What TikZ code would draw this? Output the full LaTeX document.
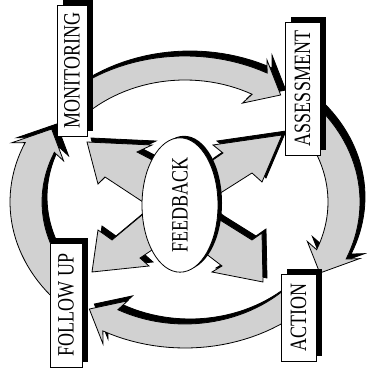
\documentclass[tikz,border=0pt]{standalone}
\usepackage{fontspec}
\setmainfont{Liberation Serif}
\usetikzlibrary{shapes.geometric,shadows}
\definecolor{bandgray}{gray}{0.82}
\tikzset{
  band/.style={fill=bandgray, draw=black, line width=0.8pt},
  bandshadow/.style={fill=black, draw=black, line width=0.8pt},
  labelbox/.style={draw, fill=white, inner sep=0pt, line width=0.8pt,
    drop shadow={shadow xshift=6pt, shadow yshift=5pt, fill=black, opacity=1},
    font=\fontsize{18}{20}\selectfont},
  fbnode/.style={ellipse, draw, fill=white, inner sep=0pt, line width=0.8pt,
    minimum width=76pt, minimum height=115pt,
    drop shadow={shadow xshift=4pt, shadow yshift=2pt, fill=black, opacity=1},
    font=\fontsize{18}{20}\selectfont}
}
\newcommand{\uptext}[1]{\rotatebox{90}{\scalebox{1}[1.3]{#1}}}
\newcommand{\fbarrow}[1]{%
    \draw[bandshadow, shift={(4,-4)}] #1 -- cycle;
    \draw[band] #1 -- cycle;}
\begin{document}
\begin{tikzpicture}[x=1pt, y=-1pt]
    \useasboundingbox (0,0) rectangle (366,374);
    \def\cx{185}
    \def\cy{202}

    % big cycle arrows round the ring
    \foreach \ta/\tb in {225/307, 318/392, 45/127, 138/213} {
        \pgfmathsetmacro{\tc}{\tb-9}
        \pgfmathsetmacro{\td}{\tb-11}
        \foreach \dx/\dy/\st in {5/-5/bandshadow, 0/0/band} {
            \draw[\st, shift={(\dx,\dy)}]
                plot[domain=\ta:\tc, samples=30] ({\cx+175*cos(\x)},{\cy+146*sin(\x)})
                -- ({\cx+187*cos(\td)},{\cy+158*sin(\td)})
                -- ({\cx+159*cos(\tb)},{\cy+134*sin(\tb)})
                -- ({\cx+131*cos(\td)},{\cy+110*sin(\td)})
                -- plot[domain=\tc:\ta, samples=30] ({\cx+143*cos(\x)},{\cy+122*sin(\x)})
                -- cycle;
        }
    }

    % feedback arrows
    \fbarrow{(170,180) -- (158,163) -- (137,152) -- (152,145) -- (87,142)
        -- (98,184) -- (105,177) -- (143,202) -- (160,205)}
    \fbarrow{(195,175) -- (210,162) -- (223,153) -- (213,145) -- (282,135)
        -- (262,182) -- (252,173) -- (222,192) -- (200,200)}
    \fbarrow{(160,212) -- (142,215) -- (112,240) -- (98,230) -- (92,272)
        -- (149,266) -- (140,258) -- (152,250) -- (165,240)}
    \fbarrow{(200,205) -- (220,220) -- (252,240) -- (262,233) -- (263,282)
        -- (212,272) -- (222,266) -- (205,253) -- (190,240)}

    % centre
    \node[fbnode] (fb) at (180,205) {\uptext{FEEDBACK}};

    % stages
    \node[labelbox, minimum width=30pt, minimum height=131pt] (mon) at (72,70.5) {\uptext{MONITORING}};
    \node[labelbox, minimum width=35pt, minimum height=133pt] (ass) at (302.5,88.5) {\uptext{ASSESSMENT}};
    \node[labelbox, minimum width=35pt, minimum height=87pt] (act) at (298.5,317.5) {\uptext{ACTION}};
    \node[labelbox, minimum width=32pt, minimum height=124pt] (fol) at (66,305) {\uptext{FOLLOW UP}};
\end{tikzpicture}
\end{document}
